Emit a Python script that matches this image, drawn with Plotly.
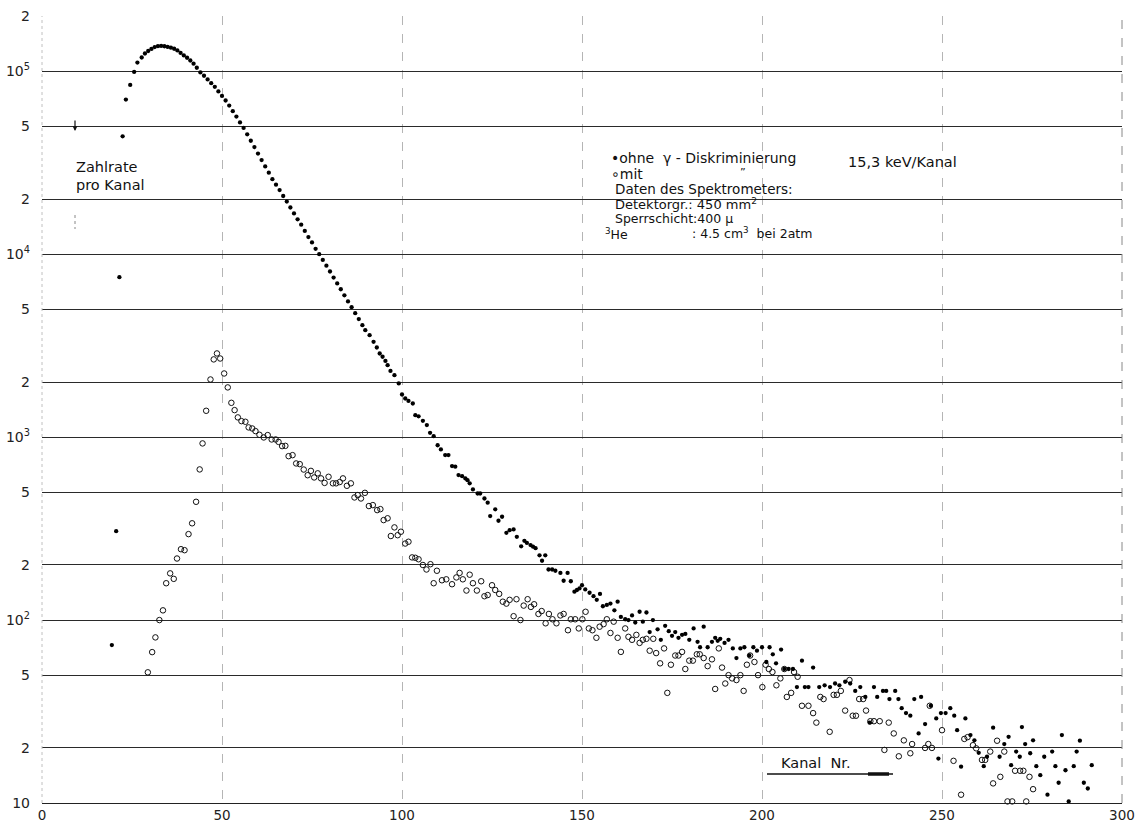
import plotly.graph_objects as go
import math

# ---------------- data ----------------
x_ohne = [19.4, 20.6, 21.5, 22.4, 23.3, 24.5, 25.6, 26.5, 27.7, 28.6, 29.5, 30.4, 31.3, 32.2, 33.1,
          34.0, 34.9, 35.8, 36.7, 37.6, 38.5, 39.4, 40.3, 41.2, 42.1, 43.0, 44.0, 45.0, 46.0, 47.0,
          48.0, 49.0, 50.0, 51.0, 52.0, 53.0, 54.0, 55.0, 56.0, 57.0, 58.0, 59.0, 60.0, 61.0, 62.0,
          63.0, 64.0, 65.0, 66.0, 67.0, 68.0, 69.0, 70.0, 71.0, 72.0, 73.0, 74.0, 75.0, 76.0, 77.0,
          78.0, 79.0, 80.0, 81.0, 82.0, 83.0, 84.0, 85.0, 86.0, 87.0, 88.0, 89.0, 89.8, 91.0, 92.1,
          93.0, 93.8, 94.6, 95.4, 96.0, 96.8, 97.9, 99.1, 100.0, 100.9, 101.8, 103.0, 103.7, 104.6,
          105.8, 106.9, 107.8, 108.8, 109.9, 110.8, 112.0, 112.9, 113.9, 114.8, 115.7, 116.7, 117.6,
          118.2, 118.8, 119.7, 121.0, 121.7, 122.9, 123.8, 124.5, 125.9, 126.8, 127.8, 129.0, 129.9,
          131.0, 131.9, 133.1, 134.0, 134.7, 135.7, 136.4, 137.1, 138.2, 138.9, 139.8, 140.7, 141.7,
          142.6, 144.0, 144.9, 146.0, 146.9, 147.9, 148.6, 149.3, 150.0, 150.9, 152.1, 153.2, 154.1,
          155.0, 155.8, 156.9, 157.9, 159.0, 159.9, 160.8, 162.0, 162.9, 163.9, 164.8, 166.0, 166.9,
          167.9, 168.8, 169.7, 171.0, 171.9, 173.1, 174.1, 175.0, 175.9, 176.8, 177.8, 178.7, 179.8,
          181.0, 182.1, 182.8, 183.8, 184.9, 186.1, 187.0, 187.7, 188.4, 189.6, 190.7, 191.9, 192.9,
          194.0, 195.1, 196.5, 197.6, 198.6, 200.0, 201.2, 202.1, 203.0, 203.9, 205.3, 206.2, 207.4,
          208.6, 209.7, 211.1, 211.9, 212.9, 214.2, 215.9, 217.4, 218.9, 220.3, 221.5, 223.1, 224.5,
          225.9, 227.3, 228.7, 229.9, 231.1, 232.0, 233.6, 234.5, 235.4, 237.0, 237.9, 238.8, 240.0,
          241.2, 242.3, 243.5, 244.2, 245.3, 246.9, 248.4, 249.0, 249.7, 251.0, 252.3, 253.4, 254.2,
          255.3, 256.5, 257.9, 259.0, 260.2, 261.6, 262.5, 264.2, 266.0, 267.3, 268.5, 269.2, 270.6,
          271.6, 272.2, 273.1, 274.5, 275.3, 276.2, 277.3, 278.4, 279.3, 280.6, 281.5, 282.4, 283.3,
          284.3, 285.2, 286.6, 287.4, 288.3, 289.4, 290.5, 291.6]
y_ohne = [73, 306, 7490, 44100, 70000, 84200, 99100, 111600, 118900, 125000, 129000, 132500, 135500,
          137200, 137500, 137000, 135800, 134500, 132700, 130000, 126000, 122000, 118500, 114500,
          110000, 104500, 98500, 94500, 90200, 86100, 82200, 77600, 73300, 69200, 64900, 60500,
          56500, 52500, 49000, 45200, 41700, 38500, 35500, 32700, 30200, 27900, 25700, 24000, 22400,
          20800, 19400, 18000, 16700, 15500, 14500, 13400, 12400, 11600, 10700, 10000, 9300, 8650,
          8040, 7450, 6920, 6430, 5960, 5520, 5130, 4760, 4420, 4090, 3845, 3610, 3320, 3090, 2865,
          2750, 2610, 2474, 2300, 2180, 1965, 1710, 1626, 1578, 1527, 1318, 1300, 1228, 1164, 1056,
          1012, 903, 857, 798, 798, 695, 689, 620, 612, 595, 582, 559, 518, 492, 492, 462, 438, 370,
          403, 349, 367, 300, 310, 313, 285, 253, 271, 264, 257, 252, 247, 226, 211, 226, 189, 189,
          186, 181, 164, 181, 163, 143, 146, 149, 155, 147, 141, 135, 129, 139, 119, 121, 123, 113,
          126, 104, 101, 100, 106, 97, 111, 98, 110, 86, 100, 89, 78, 93, 87, 82, 86, 80, 83, 84, 78,
          90, 76, 71, 92, 71, 76, 80, 77, 79, 75, 78, 70, 62, 70, 71, 64, 71, 68, 71, 59, 71, 65, 58,
          69, 54, 54, 54, 43, 60, 43, 43, 55, 43, 44, 43, 45, 44, 46, 45, 41, 43, 38, 27.5, 43, 38,
          41, 41, 37, 41, 37, 33, 31, 30, 37, 24, 38, 27, 34, 29, 17.5, 31, 31, 33, 30, 25, 15.8, 29,
          23.5, 22, 18.8, 15.9, 17.9, 25.8, 17.9, 21, 23, 16.1, 19.1, 17.9, 26, 21, 18.7, 22, 15.9,
          14.2, 17.9, 11.1, 19.1, 15.9, 12.9, 23.5, 15.1, 10.2, 15.9, 19.1, 21.9, 12.9, 12, 16.1]

x_mit = [29.4, 30.6, 31.5, 32.6, 33.6, 34.5, 35.6, 36.6, 37.5, 38.6, 39.6, 40.7, 41.7, 42.8, 43.8,
         44.6, 45.6, 46.8, 47.7, 48.6, 49.5, 50.6, 51.6, 52.6, 53.5, 54.4, 55.4, 56.5, 57.4, 58.4,
         59.3, 60.4, 61.6, 62.7, 63.8, 64.9, 65.7, 66.7, 67.6, 68.5, 69.6, 70.6, 71.6, 72.7, 73.8,
         74.7, 75.6, 76.6, 77.5, 78.5, 79.6, 80.8, 81.7, 82.7, 83.6, 84.7, 85.8, 86.8, 87.7, 88.6,
         89.7, 90.8, 91.9, 93.1, 94.0, 94.9, 96.0, 96.9, 97.9, 98.8, 99.7, 100.9, 101.8, 102.8,
         103.7, 104.6, 105.8, 106.8, 107.9, 108.8, 109.7, 111.1, 112.3, 113.9, 115.1, 116.0, 116.9,
         117.9, 118.8, 119.7, 120.8, 122.0, 122.9, 123.8, 125.0, 125.9, 127.0, 128.0, 129.0, 129.9,
         131.0, 131.8, 132.9, 133.8, 134.9, 135.8, 136.7, 137.9, 138.8, 139.9, 140.8, 141.8, 142.9,
         144.0, 144.9, 146.1, 146.9, 148.1, 149.1, 150.1, 151.0, 151.9, 152.9, 154.0, 154.9, 156.0,
         156.9, 157.9, 158.8, 159.9, 160.8, 162.0, 162.9, 163.9, 165.1, 166.0, 166.9, 167.9, 168.8,
         169.8, 170.6, 171.7, 172.8, 173.7, 174.7, 175.9, 176.8, 177.8, 178.7, 179.8, 180.8, 181.9,
         182.7, 183.8, 184.9, 186.1, 187.0, 188.0, 188.9, 189.8, 190.7, 191.7, 192.9, 194.0, 194.9,
         195.8, 196.7, 197.9, 198.9, 200.1, 201.0, 201.9, 202.9, 204.0, 205.1, 206.2, 206.9, 208.1,
         208.9, 209.9, 211.1, 212.9, 214.2, 215.1, 216.2, 217.1, 218.8, 219.9, 220.8, 221.9, 223.1,
         224.3, 225.2, 226.1, 227.0, 228.1, 228.9, 230.1, 231.1, 232.7, 234.0, 235.2, 236.6, 238.0,
         239.4, 241.2, 241.7, 245.3, 246.2, 246.6, 247.2, 250.0, 253.2, 255.3, 256.2, 257.1, 258.6,
         259.5, 261.1, 262.0, 263.4, 264.2, 265.3, 266.2, 267.3, 268.2, 269.5, 270.3, 271.7, 272.6,
         273.4, 274.3, 275.3]
y_mit = [51.8, 66.8, 80.4, 100, 113, 159, 180, 168, 217, 244, 241, 295, 338, 443, 666, 924, 1393,
         2066, 2660, 2867, 2690, 2228, 1870, 1540, 1405, 1282, 1223, 1213, 1130, 1115, 1079, 1030,
         996, 1026, 971, 971, 942, 893, 896, 787, 797, 718, 712, 665, 619, 654, 602, 634, 595, 562,
         607, 559, 559, 568, 595, 542, 559, 468, 482, 462, 496, 420, 425, 399, 404, 352, 360, 288,
         321, 291, 304, 262, 268, 220, 219, 215, 200, 189, 202, 159, 186, 165, 167, 157, 171, 181,
         167, 145, 177, 159, 145, 163, 135, 137, 155, 146, 139, 126, 123, 129, 105, 130, 100, 120,
         130, 118, 122, 108, 112, 96, 108, 101, 96, 106, 108, 88, 101, 101, 90, 101, 111, 90, 88,
         80, 92, 95, 101, 85, 98, 80, 67, 90, 81, 78, 83, 75, 78, 79, 68, 79, 66, 58, 70, 40, 57, 64,
         64, 67, 54, 60, 60, 65, 65, 62, 56, 61, 42, 70, 55, 45, 50, 48, 47, 50, 41, 57, 64, 59, 50,
         43, 57, 54, 52, 44, 48, 54, 38, 40, 52, 49, 34, 34, 31, 27.5, 38, 37, 24.5, 39, 39, 41, 32,
         47, 30, 30, 37, 37, 32, 28, 28, 28, 19.5, 27.5, 24, 18, 22, 18.7, 21, 20, 21, 34, 20, 25,
         17, 11.1, 22.4, 22.9, 20.7, 19.9, 17.2, 17.2, 19.1, 12.8, 21.9, 13.9, 19.1, 10.2, 10.2, 15,
         15, 15, 10.2, 13.9, 11.9]

x_ticks = [0, 50, 100, 150, 200, 250, 300]
y_tickvals = [10, 20, 50, 100, 200, 500, 1000, 2000, 5000, 10000, 20000, 50000, 100000, 200000]
y_ticktext = ["10", "2", "5", "10<sup>2</sup>", "2", "5", "10<sup>3</sup>", "2", "5",
              "10<sup>4</sup>", "2", "5", "10<sup>5</sup>", "2"]

# ---------------- layout helpers ----------------
W, H = 1143, 825
L, R, T, B = 42, 1122, 16, 803
FONT = "DejaVu Sans"


def fx(p):
    return (p - L) / (R - L)


def fy(p):
    return (B - p) / (B - T)


fig = go.Figure()

fig.add_trace(go.Scatter(x=x_mit, y=y_mit, mode="markers", name="mit",
                         marker=dict(symbol="circle-open", size=5.5, color="#111",
                                     line=dict(width=1, color="#111")),
                         showlegend=False, cliponaxis=False))
fig.add_trace(go.Scatter(x=x_ohne, y=y_ohne, mode="markers", name="ohne",
                         marker=dict(symbol="circle", size=4.3, color="#000"),
                         showlegend=False, cliponaxis=False))

fig.update_layout(
    width=W, height=H, autosize=False,
    margin=dict(l=L, r=W - R, t=T, b=H - B, pad=0, autoexpand=False),
    plot_bgcolor="white", paper_bgcolor="white",
    font=dict(family=FONT, size=14, color="#222"),
    xaxis=dict(range=[0, 300], tickvals=x_ticks, ticktext=[str(v) for v in x_ticks],
               showgrid=True, gridcolor="#b5b5b5", griddash="dash", gridwidth=1,
               zeroline=False, showline=True, linecolor="#222", linewidth=1.2,
               automargin=False,
               ticks="", ticklabelstandoff=0, tickfont=dict(size=13.5, family=FONT, color="#222")),
    yaxis=dict(type="log", range=[1, math.log10(2e5) + 0.001], tickvals=y_tickvals,
               ticktext=y_ticktext, showgrid=True, gridcolor="#2a2a2a", gridwidth=1,
               zeroline=False, showline=False, ticks="", ticklabelstandoff=11,
               automargin=False,
               tickfont=dict(size=14, family=FONT, color="#222")),
)

# right border (dashed) and faint left border
fig.add_shape(type="line", xref="paper", yref="paper", x0=1, x1=1, y0=0, y1=1,
              line=dict(color="#888", width=1, dash="dash"))
fig.add_shape(type="line", xref="paper", yref="paper", x0=0, x1=0, y0=0, y1=1,
              line=dict(color="#c0c0c0", width=1, dash="dot"))

ann = []


def txt(xp, yp, s, size=14, anchor="left"):
    ann.append(dict(xref="paper", yref="paper", x=fx(xp), y=fy(yp), text=s, showarrow=False,
                    xanchor=anchor, yanchor="middle", font=dict(family=FONT, size=size, color="#111")))


txt(74, 167, "Zahlrate", size=14.5)
txt(74, 185, "pro Kanal", size=14.5)
txt(609, 158, "•ohne  γ - Diskriminierung")
txt(609, 174, "∘mit")
txt(738, 172, "\u201d", size=11)
txt(846, 162, "15,3 keV/Kanal", size=14.5)
txt(613, 189, "Daten des Spektrometers:", size=13.5)
txt(613, 204, "Detektorgr.: 450 mm<sup>2</sup>", size=13)
txt(613, 219, "Sperrschicht:400 µ", size=12.5)
txt(603, 234, "<sup>3</sup>He", size=12.5)
txt(690, 233, ": 4.5 cm<sup>3</sup>  bei 2atm", size=12.5)
txt(779, 763, "Kanal  Nr.", size=14.5)

fig.update_layout(annotations=ann)

# small arrow near "Zahlrate"
fig.add_annotation(xref="paper", yref="paper", x=fx(75), y=fy(131), ax=0, ay=-12,
                   axref="pixel", ayref="pixel", text="", showarrow=True,
                   arrowhead=2, arrowsize=0.8, arrowwidth=1.2, arrowcolor="#111")
fig.add_shape(type="line", xref="paper", yref="paper", x0=fx(75), x1=fx(75), y0=fy(215), y1=fy(229),
              line=dict(color="#888", width=1, dash="dot"))

# "Kanal Nr." arrow line
fig.add_shape(type="line", xref="paper", yref="paper", x0=fx(767), x1=fx(893), y0=fy(774), y1=fy(774),
              line=dict(color="#111", width=1.3))
fig.add_shape(type="line", xref="paper", yref="paper", x0=fx(868), x1=fx(889), y0=fy(774), y1=fy(774),
              line=dict(color="#111", width=3.5))

fig.write_html("out.html")
